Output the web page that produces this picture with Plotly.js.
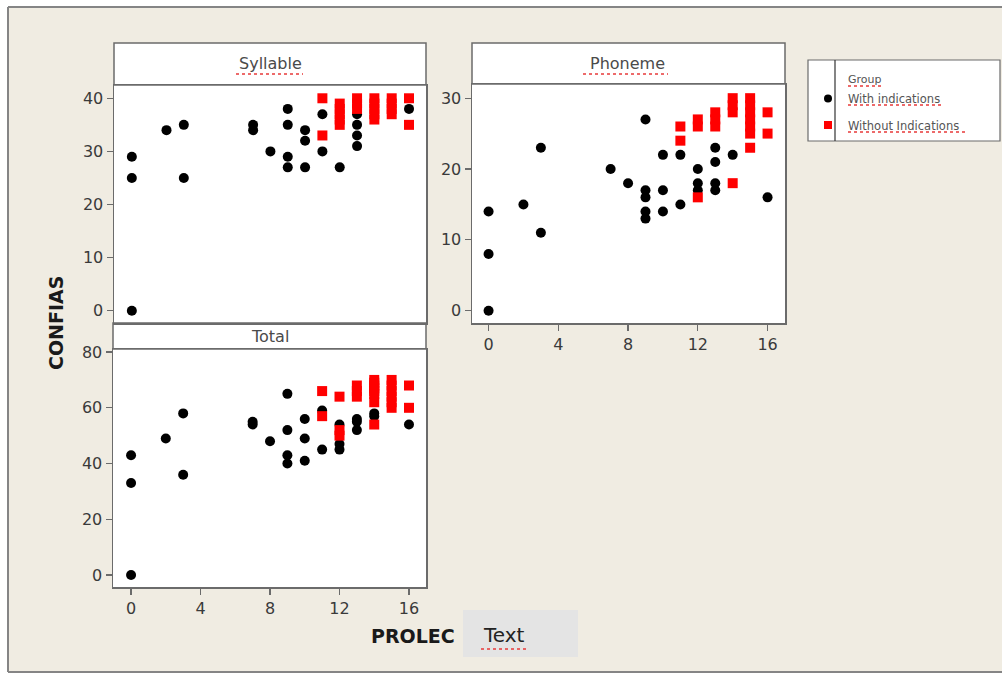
<!DOCTYPE html>
<html><head><meta charset="utf-8">
<script src="https://cdn.plot.ly/plotly-3.0.1.min.js"></script>
<style>html,body{margin:0;padding:0;background:#fff}#chart{width:1002px;height:675px}</style>
</head><body><div id="chart"></div>
<script>
// ---- data ----
const groupNames = ['With indications', 'Without Indications'];
const panelTitles = ['Syllable', 'Phoneme', 'Total'];
const xTickVals = [0, 4, 8, 12, 16];

const sylWithX = [0,0,0,2,3,3,7,7,8,9,9,9,9,10,10,10,11,11,12,13,13,13,13,16];
const sylWithY = [29,25,0,34,35,25,35,34,30,38,35,29,27,34,32,27,37,30,27,37,35,33,31,38];
const sylWithoutX = [11,11,12,12,12,12,12,13,13,13,14,14,14,14,14,15,15,15,15,16,16];
const sylWithoutY = [40,33,39,38,37,36,35,40,39,38,40,39,38,37,36,40,39,38,37,40,35];

const phoWithX = [0,0,0,2,3,3,7,8,9,9,9,9,9,10,10,10,11,11,12,12,12,13,13,13,13,14,16];
const phoWithY = [0,8,14,15,23,11,20,18,27,17,16,14,13,22,17,14,22,15,20,18,17,23,21,18,17,22,16];
const phoWithoutX = [11,11,12,12,12,13,13,13,14,14,14,14,15,15,15,15,15,15,15,16,16];
const phoWithoutY = [26,24,27,26,16,28,27,26,30,29,28,18,30,29,28,27,26,25,23,28,25];

const totWithX = [0,0,0,2,3,3,7,7,8,9,9,9,9,10,10,10,11,11,12,12,12,13,13,13,14,14,16];
const totWithY = [0,33,43,49,58,36,55,54,48,65,52,43,40,56,49,41,59,45,54,47,45,56,55,52,58,57,54];
const totWithoutX = [11,11,12,12,12,13,13,13,14,14,14,14,14,14,14,14,15,15,15,15,15,15,16,16];
const totWithoutY = [66,57,64,52,50,68,66,64,70,69,68,67,66,65,62,54,70,68,66,64,62,60,68,60];

const sylYTicks = [0,10,20,30,40];
const phoYTicks = [0,10,20,30];
const totYTicks = [0,20,40,60,80];

// ---- helpers ----
const W = 1002, H = 675;
const px = v => v / W;
const py = v => 1 - v / H;
const GRAY = '#6b6b6b';
const BEIGE = '#f0ece2';
const TICKFONT = {family: 'DejaVu Sans', size: 16, color: '#3a3a3a'};

const withMarker = {symbol: 'circle', size: 10, color: '#000000'};
const withoutMarker = {symbol: 'square', size: 10, color: '#ff0000'};

function pts(x, y, xa, ya, marker, grp) {
  return {type: 'scatter', mode: 'markers', x: x, y: y, xaxis: xa, yaxis: ya,
    marker: marker, showlegend: false, legendgroup: grp, hoverinfo: 'x+y'};
}

const traces = [
  pts(sylWithX, sylWithY, 'x', 'y', withMarker, 'g1'),
  pts(sylWithoutX, sylWithoutY, 'x', 'y', withoutMarker, 'g2'),
  pts(phoWithX, phoWithY, 'x2', 'y2', withMarker, 'g1'),
  pts(phoWithoutX, phoWithoutY, 'x2', 'y2', withoutMarker, 'g2'),
  pts(totWithX, totWithY, 'x3', 'y3', withMarker, 'g1'),
  pts(totWithoutX, totWithoutY, 'x3', 'y3', withoutMarker, 'g2'),
  // legend entries
  {type: 'scatter', mode: 'markers', x: [null], y: [null], name: groupNames[0], legendgroup: 'g1',
   marker: {symbol: 'circle', size: 8, color: '#000'}, showlegend: true},
  {type: 'scatter', mode: 'markers', x: [null], y: [null], name: groupNames[1], legendgroup: 'g2',
   marker: {symbol: 'square', size: 8, color: '#ff0000'}, showlegend: true}
];

function xa(dom, rng, anchor, showTicks) {
  return {domain: dom, range: rng, anchor: anchor, showgrid: false, zeroline: false,
    showline: true, mirror: true, linecolor: GRAY, linewidth: 1.5,
    tickmode: 'array', tickvals: xTickVals, showticklabels: showTicks,
    ticks: showTicks ? 'outside' : '', ticklen: 6, tickcolor: GRAY, tickwidth: 1.2,
    tickfont: TICKFONT, fixedrange: true};
}
function ya(dom, rng, anchor, vals) {
  return {domain: dom, range: rng, anchor: anchor, showgrid: false, zeroline: false,
    showline: true, mirror: true, linecolor: GRAY, linewidth: 1.5,
    tickmode: 'array', tickvals: vals, ticks: 'outside', ticklen: 6, tickcolor: GRAY, tickwidth: 1.2,
    tickfont: TICKFONT, fixedrange: true};
}

function rect(x0, y0, x1, y1, fill, line, lw) {
  return {type: 'rect', xref: 'paper', yref: 'paper', x0: px(x0), x1: px(x1), y0: py(y1), y1: py(y0),
    fillcolor: fill, line: {color: line, width: lw}, layer: 'below'};
}
function pline(x0, y0, x1, y1, color, w) {
  return {type: 'line', xref: 'paper', yref: 'paper', x0: px(x0), x1: px(x1), y0: py(y0), y1: py(y1),
    line: {color: color, width: w}, layer: 'below'};
}
function squiggle(x0, x1, y) {
  return {type: 'line', xref: 'paper', yref: 'paper', x0: px(x0), x1: px(x1), y0: py(y), y1: py(y),
    line: {color: '#e83a3a', width: 1.3, dash: 'dot'}, layer: 'above'};
}
function ann(text, x, y, opts) {
  return Object.assign({xref: 'paper', yref: 'paper', x: px(x), y: py(y), text: text, showarrow: false,
    xanchor: 'center', yanchor: 'middle'}, opts);
}

const NONE = 'rgba(0,0,0,0)';
const shapes = [
  // white margin outside the beige frame
  rect(-2, -2, 1004, 7, '#ffffff', NONE, 0),
  rect(-2, -2, 8, 677, '#ffffff', NONE, 0),
  rect(-2, 672, 1004, 677, '#ffffff', NONE, 0),
  // frame border
  pline(8, 7, 1004, 7, '#858585', 2),
  pline(8, 7, 8, 672, '#858585', 2),
  pline(8, 672, 1004, 672, '#858585', 2),
  // strip headers
  rect(114, 43, 426, 85, '#ffffff', GRAY, 1.5),
  rect(472, 43, 785, 84, '#ffffff', GRAY, 1.5),
  rect(113, 323, 426, 349, '#ffffff', GRAY, 1.5),
  // legend box
  rect(808, 60, 1000, 141, '#ffffff', GRAY, 1.2),
  pline(835, 60, 835, 141, '#333333', 1.2),
  // text box
  rect(463, 610, 578, 657, '#e4e4e4', NONE, 0),
  squiggle(236, 303, 74),
  squiggle(583, 668, 74),
  squiggle(848, 884, 86),
  squiggle(848, 944, 105),
  squiggle(848, 968, 132),
  squiggle(481, 528, 649)
];

const TFONT = {family: 'DejaVu Sans', size: 16, color: '#4a4a4a'};
const annotations = [
  ann(panelTitles[0], 270, 64, {font: TFONT}),
  ann(panelTitles[1], 627, 64, {font: TFONT}),
  ann(panelTitles[2], 270, 336, {font: TFONT}),
  ann('<b>CONFIAS</b>', 56, 323, {textangle: -90, font: {family: 'DejaVu Sans', size: 19, color: '#1a1a1a'}}),
  ann('<b>PROLEC</b>', 413, 636, {font: {family: 'DejaVu Sans', size: 19, color: '#1a1a1a'}}),
  ann('Text', 481, 635, {xanchor: 'left', font: {family: 'DejaVu Sans', size: 20, color: '#222'}}),
  ann('Group', 846, 79, {xanchor: 'left', font: {family: 'DejaVu Sans', size: 11, color: '#555'}})
];

const layout = {
  width: W, height: H, margin: {l: 0, r: 0, t: 0, b: 0},
  paper_bgcolor: BEIGE, plot_bgcolor: '#ffffff',
  showlegend: true,
  legend: {x: px(808), y: py(84), xanchor: 'left', yanchor: 'top', bgcolor: 'rgba(0,0,0,0)',
    borderwidth: 0, font: {family: 'DejaVu Sans', size: 11.5, color: '#555'},
    traceorder: 'grouped', tracegroupgap: 7.5, itemwidth: 30},
  xaxis: xa([px(114), px(426)], [-1.03, 16.98], 'y', false),
  yaxis: ya([py(323), py(85)], [-2.3, 42.5], 'x', sylYTicks),
  xaxis2: xa([px(472), px(785)], [-0.95, 17.0], 'y2', true),
  yaxis2: ya([py(323), py(84)], [-1.74, 32.0], 'x2', phoYTicks),
  xaxis3: xa([px(113), px(426)], [-1.04, 16.98], 'y3', true),
  yaxis3: ya([py(587), py(349)], [-4.3, 81.1], 'x3', totYTicks),
  shapes: shapes,
  annotations: annotations
};

Plotly.newPlot('chart', traces, layout, {displayModeBar: false, staticPlot: true});
</script>
</body></html>
